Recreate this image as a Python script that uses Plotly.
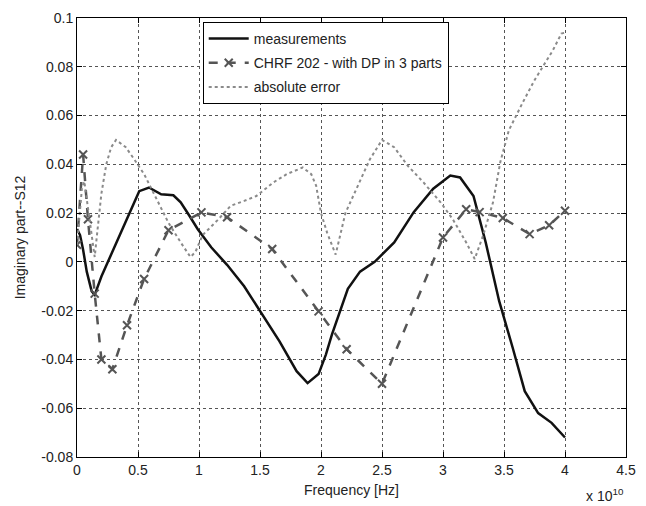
import plotly.graph_objects as go

# Frequency values are in units of 1e10 Hz (axis shows "x 10^10")
meas_x = [0.0, 0.025, 0.05, 0.08, 0.12, 0.145, 0.2, 0.27, 0.35, 0.43, 0.51, 0.59, 0.65, 0.69,
          0.79, 0.85, 0.92, 0.99, 1.1, 1.23, 1.37, 1.5, 1.66, 1.8, 1.89, 1.98, 2.04, 2.09,
          2.22, 2.32, 2.44, 2.6, 2.76, 2.92, 3.06, 3.14, 3.25, 3.35, 3.46, 3.57, 3.67,
          3.78, 3.89, 4.0]
meas_y = [0.0135, 0.011, 0.005, -0.004, -0.012, -0.0135, -0.006, 0.002, 0.011, 0.020, 0.029,
          0.0305, 0.029, 0.0277, 0.0273, 0.0244, 0.019, 0.0134, 0.006, -0.0012, -0.010,
          -0.0203, -0.0326, -0.0448, -0.0497, -0.046, -0.038, -0.0297, -0.011, -0.004, 0.0,
          0.008, 0.0204, 0.030, 0.0354, 0.0346, 0.027, 0.008, -0.016, -0.035, -0.053,
          -0.062, -0.066, -0.072]

model_x = [0.0, 0.05, 0.09, 0.145, 0.2, 0.29, 0.41, 0.55, 0.75, 1.02, 1.23, 1.6, 1.98, 2.21,
           2.5, 3.0, 3.19, 3.3, 3.49, 3.71, 3.87, 4.0]
model_y = [0.007, 0.044, 0.0175, -0.013, -0.040, -0.044, -0.026, -0.007, 0.013, 0.0203,
           0.0183, 0.0053, -0.0203, -0.0358, -0.050, 0.010, 0.0216, 0.0204, 0.018, 0.0114,
           0.015, 0.021]

err_x = [0.0, 0.02, 0.04, 0.06, 0.09, 0.12, 0.145, 0.17, 0.2, 0.24, 0.28, 0.32, 0.4, 0.47,
         0.55, 0.64, 0.75, 0.85, 0.93, 0.97, 1.03, 1.15, 1.26, 1.37, 1.47, 1.61, 1.72, 1.85,
         1.92, 1.96, 2.0, 2.05, 2.12, 2.2, 2.3, 2.4, 2.5, 2.6, 2.71, 2.84, 2.98, 3.08, 3.19,
         3.26, 3.33, 3.41, 3.47, 3.54, 3.65, 3.75, 3.83, 3.9, 3.97, 4.0]
err_y = [0.007, 0.018, 0.03, 0.033, 0.022, 0.01, 0.002, 0.014, 0.028, 0.040, 0.047, 0.050,
         0.047, 0.042, 0.036, 0.027, 0.016, 0.008, 0.002, 0.004, 0.011, 0.017, 0.023, 0.025,
         0.027, 0.0326, 0.036, 0.0387, 0.036, 0.0313, 0.020, 0.012, 0.003, 0.020, 0.031,
         0.042, 0.050, 0.047, 0.0395, 0.0326, 0.0244, 0.0175, 0.008, 0.0012, 0.011, 0.0244,
         0.041, 0.054, 0.065, 0.0745, 0.081, 0.0867, 0.0936, 0.094]

x_ticks = [0, 0.5, 1, 1.5, 2, 2.5, 3, 3.5, 4, 4.5]
x_tick_labels = ["0", "0.5", "1", "1.5", "2", "2.5", "3", "3.5", "4", "4.5"]
y_ticks = [-0.08, -0.06, -0.04, -0.02, 0, 0.02, 0.04, 0.06, 0.08, 0.1]
y_tick_labels = ["-0.08", "-0.06", "-0.04", "-0.02", "0", "0.02", "0.04", "0.06", "0.08", "0.1"]

names = ["measurements", "CHRF 202 - with DP in 3 parts", "absolute error"]

FONT = "Arial, Liberation Sans, Helvetica, sans-serif"
TXT = "#222222"

fig = go.Figure()
fig.add_trace(go.Scatter(x=meas_x, y=meas_y, mode="lines", name=names[0], legendgroup="a",
                         line=dict(color="#111111", width=2.5)))
fig.add_trace(go.Scatter(x=model_x, y=model_y, mode="lines+markers", name=names[1],
                         legendgroup="b",
                         line=dict(color="#555555", width=2.5, dash="dash"),
                         marker=dict(symbol="x-thin", size=8,
                                     line=dict(color="#555555", width=2))))
fig.add_trace(go.Scatter(x=err_x, y=err_y, mode="lines", name=names[2], legendgroup="c",
                         line=dict(color="#8a8a8a", width=2, dash="dot")))

axis_common = dict(showline=True, linecolor="black", linewidth=1, mirror="ticks",
                   ticks="inside", ticklen=5, tickcolor="black",
                   showgrid=True, gridcolor="#555555", gridwidth=1, griddash="dot",
                   zeroline=False, tickfont=dict(family=FONT, size=14, color=TXT))

fig.update_xaxes(range=[0, 4.5], tickvals=x_ticks, ticktext=x_tick_labels,
                 title=dict(text="Frequency [Hz]", font=dict(family=FONT, size=14, color=TXT),
                            standoff=8),
                 **axis_common)
fig.update_yaxes(range=[-0.08, 0.1], tickvals=y_ticks, ticktext=y_tick_labels,
                 title=dict(text="Imaginary part--S12", font=dict(family=FONT, size=14, color=TXT),
                            standoff=12),
                 **axis_common)

fig.add_annotation(xref="paper", yref="paper", x=1.0, y=-0.062, xanchor="right", yanchor="top",
                   text="x 10<sup>10</sup>", showarrow=False,
                   font=dict(family=FONT, size=14, color=TXT))

fig.update_layout(
    width=646, height=506,
    margin=dict(l=77, r=10, t=14, b=49),
    paper_bgcolor="white", plot_bgcolor="white",
    font=dict(family=FONT, size=14, color=TXT),
    legend=dict(x=0.229, y=0.991, xanchor="left", yanchor="top",
                bgcolor="white", bordercolor="black", borderwidth=1,
                font=dict(family=FONT, size=14, color=TXT),
                tracegroupgap=3, itemwidth=40, entrywidth=250),
    showlegend=True,
)

fig.write_html("out.html", config={"displayModeBar": False},
               post_script="document.body.style.margin='0px';")
